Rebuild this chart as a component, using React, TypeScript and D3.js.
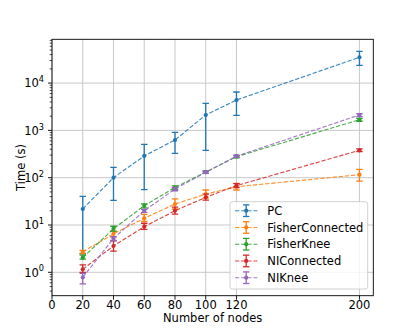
import React from "react";
import * as d3 from "d3";

const nodes = [20, 40, 60, 80, 100, 120, 200];
const xTicks = [0, 20, 40, 60, 80, 100, 120, 200];
const yTicks = [1, 10, 100, 1000, 10000];
const yTickExps = ["0", "1", "2", "3", "4"];

const seriesNames = ["PC", "FisherConnected", "FisherKnee", "NIConnected", "NIKnee"];
const seriesColors = ["#1f77b4", "#ff7f0e", "#2ca02c", "#d62728", "#9467bd"];

const pcMean = [21.8, 100, 288, 627, 2118, 4390, 35100];
const pcLow = [2.5, 33, 55.7, 328, 380, 2086, 23800];
const pcHigh = [40.4, 166, 508, 912, 3740, 6480, 47000];

const fcMean = [2.7, 6.5, 13.9, 27.8, 45, 64.5, 115.7];
const fcLow = [2.45, 5.6, 11.9, 21.8, 37, 55, 85];
const fcHigh = [2.9, 7.3, 16.8, 35.5, 55, 76, 150];

const fkMean = [2.05, 8.3, 25.6, 62, 132, 278, 1683];
const fkLow = [1.9, 7.4, 23, 57, 125, 262, 1560];
const fkHigh = [2.3, 9.4, 28, 67, 139, 295, 1800];

const ncMean = [1.16, 3.6, 9.2, 20, 38.5, 68, 380];
const ncLow = [1.0, 2.8, 8.1, 17, 33.6, 62, 355];
const ncHigh = [1.43, 4.65, 10.9, 23.9, 45, 75, 405];

const nkMean = [0.78, 5.2, 20, 57.7, 130, 285, 2118];
const nkLow = [0.57, 4.7, 18.5, 53, 124, 270, 1950];
const nkHigh = [0.95, 5.7, 21.5, 62, 137, 300, 2250];

const means = [pcMean, fcMean, fkMean, ncMean, nkMean];
const lows = [pcLow, fcLow, fkLow, ncLow, nkLow];
const highs = [pcHigh, fcHigh, fkHigh, ncHigh, nkHigh];

const W = 415;
const H = 332;
const L = 52;
const T = 39.3;
const R = 373.3;
const B = 295.7;
const FONT = "'DejaVu Sans', sans-serif";
const FS = 11.5;

export default function App() {
  const x = d3.scaleLinear().domain([0, 209]).range([L, R]);
  const y = d3
    .scaleLog()
    .domain([Math.pow(10, -0.4947), Math.pow(10, 4.926)])
    .range([B, T]);

  const minor: number[] = [];
  for (let e = -1; e <= 4; e++) {
    for (let m = 2; m <= 9; m++) {
      const v = m * Math.pow(10, e);
      if (v >= y.domain()[0] && v <= y.domain()[1]) minor.push(v);
    }
  }

  const line = d3
    .line<[number, number]>()
    .x((d) => x(d[0]))
    .y((d) => y(d[1]));

  const cap = 3.2;
  const dash = "4.3,1.85";

  const lgX = 230;
  const lgY = 201.7;
  const lgW = 137.7;
  const lgH = 87.3;
  const rowY = (i: number) => 210.7 + i * 16.75;

  return (
    <svg
      width={W}
      height={H}
      style={{ position: "absolute", left: 0, top: 0 }}
      fontFamily={FONT}
    >
      <rect width={W} height={H} fill="#fff" />
      <defs>
        <clipPath id="plotclip">
          <rect x={L} y={T} width={R - L} height={B - T} />
        </clipPath>
      </defs>
      <g stroke="#b0b0b0" strokeWidth={0.9} opacity={0.75}>
        {xTicks.map((t) => (
          <line key={"gx" + t} x1={x(t)} x2={x(t)} y1={T} y2={B} />
        ))}
        {yTicks.map((t) => (
          <line key={"gy" + t} x1={L} x2={R} y1={y(t)} y2={y(t)} />
        ))}
      </g>

      <g clipPath="url(#plotclip)">
        {seriesNames.map((name, si) => {
          const pts: [number, number][] = nodes.map((n, i) => [n, means[si][i]]);
          const c = seriesColors[si];
          return (
            <g key={name}>
              <path
                d={line(pts) || ""}
                fill="none"
                stroke={c}
                strokeWidth={1.15}
                strokeDasharray={dash}
                opacity={0.85}
              />
              {nodes.map((n, i) => {
                const cx = x(n);
                const y0 = y(lows[si][i]);
                const y1 = y(highs[si][i]);
                return (
                  <g key={i} stroke={c} strokeWidth={1.3}>
                    <line x1={cx} x2={cx} y1={y0} y2={y1} />
                    <line x1={cx - cap} x2={cx + cap} y1={y0} y2={y0} />
                    <line x1={cx - cap} x2={cx + cap} y1={y1} y2={y1} />
                  </g>
                );
              })}
              {pts.map((p, i) => (
                <circle key={"m" + i} cx={x(p[0])} cy={y(p[1])} r={2.1} fill={c} />
              ))}
            </g>
          );
        })}
      </g>

      <rect
        x={L}
        y={T}
        width={R - L}
        height={B - T}
        fill="none"
        stroke="#000"
        strokeWidth={0.9}
      />

      {xTicks.map((t) => (
        <g key={"xt" + t}>
          <line x1={x(t)} x2={x(t)} y1={B} y2={B + 4} stroke="#000" strokeWidth={0.9} />
          <text x={x(t)} y={B + 13.2} textAnchor="middle" fontSize={FS} fill="#000">
            {t}
          </text>
        </g>
      ))}

      {minor.map((t, i) => (
        <line
          key={"ym" + i}
          x1={L - 2.3}
          x2={L}
          y1={y(t)}
          y2={y(t)}
          stroke="#000"
          strokeWidth={0.7}
        />
      ))}
      {yTicks.map((t, i) => (
        <g key={"yt" + t}>
          <line x1={L - 4} x2={L} y1={y(t)} y2={y(t)} stroke="#000" strokeWidth={0.9} />
          <text x={L - 8} y={y(t) + 4.3} textAnchor="end" fontSize={FS} fill="#000">
            10
            <tspan fontSize={8.2} dy={-5.2}>
              {yTickExps[i]}
            </tspan>
          </text>
        </g>
      ))}

      <text x={(L + R) / 2} y={321.8} textAnchor="middle" fontSize={FS} fill="#000">
        Number of nodes
      </text>
      <text
        transform={`translate(24.5,${(T + B) / 2}) rotate(-90)`}
        textAnchor="middle"
        fontSize={FS}
        fill="#000"
      >
        Time (s)
      </text>

      <rect
        x={lgX}
        y={lgY}
        width={lgW}
        height={lgH}
        rx={2.5}
        fill="#fff"
        fillOpacity={0.8}
        stroke="#cccccc"
        strokeWidth={0.9}
      />
      {seriesNames.map((name, i) => {
        const ry = rowY(i);
        const c = seriesColors[i];
        const hx = 246.2;
        return (
          <g key={"lg" + name}>
            <line
              x1={235}
              x2={257.4}
              y1={ry}
              y2={ry}
              stroke={c}
              strokeWidth={1.15}
              strokeDasharray={dash}
              opacity={0.85}
            />
            <g stroke={c} strokeWidth={1.3}>
              <line x1={hx} x2={hx} y1={ry - 5.8} y2={ry + 5.8} />
              <line x1={hx - cap} x2={hx + cap} y1={ry - 5.8} y2={ry - 5.8} />
              <line x1={hx - cap} x2={hx + cap} y1={ry + 5.8} y2={ry + 5.8} />
            </g>
            <circle cx={hx} cy={ry} r={2.1} fill={c} />
            <text x={267.3} y={ry + 4.2} fontSize={FS} fill="#000">
              {name}
            </text>
          </g>
        );
      })}
    </svg>
  );
}
